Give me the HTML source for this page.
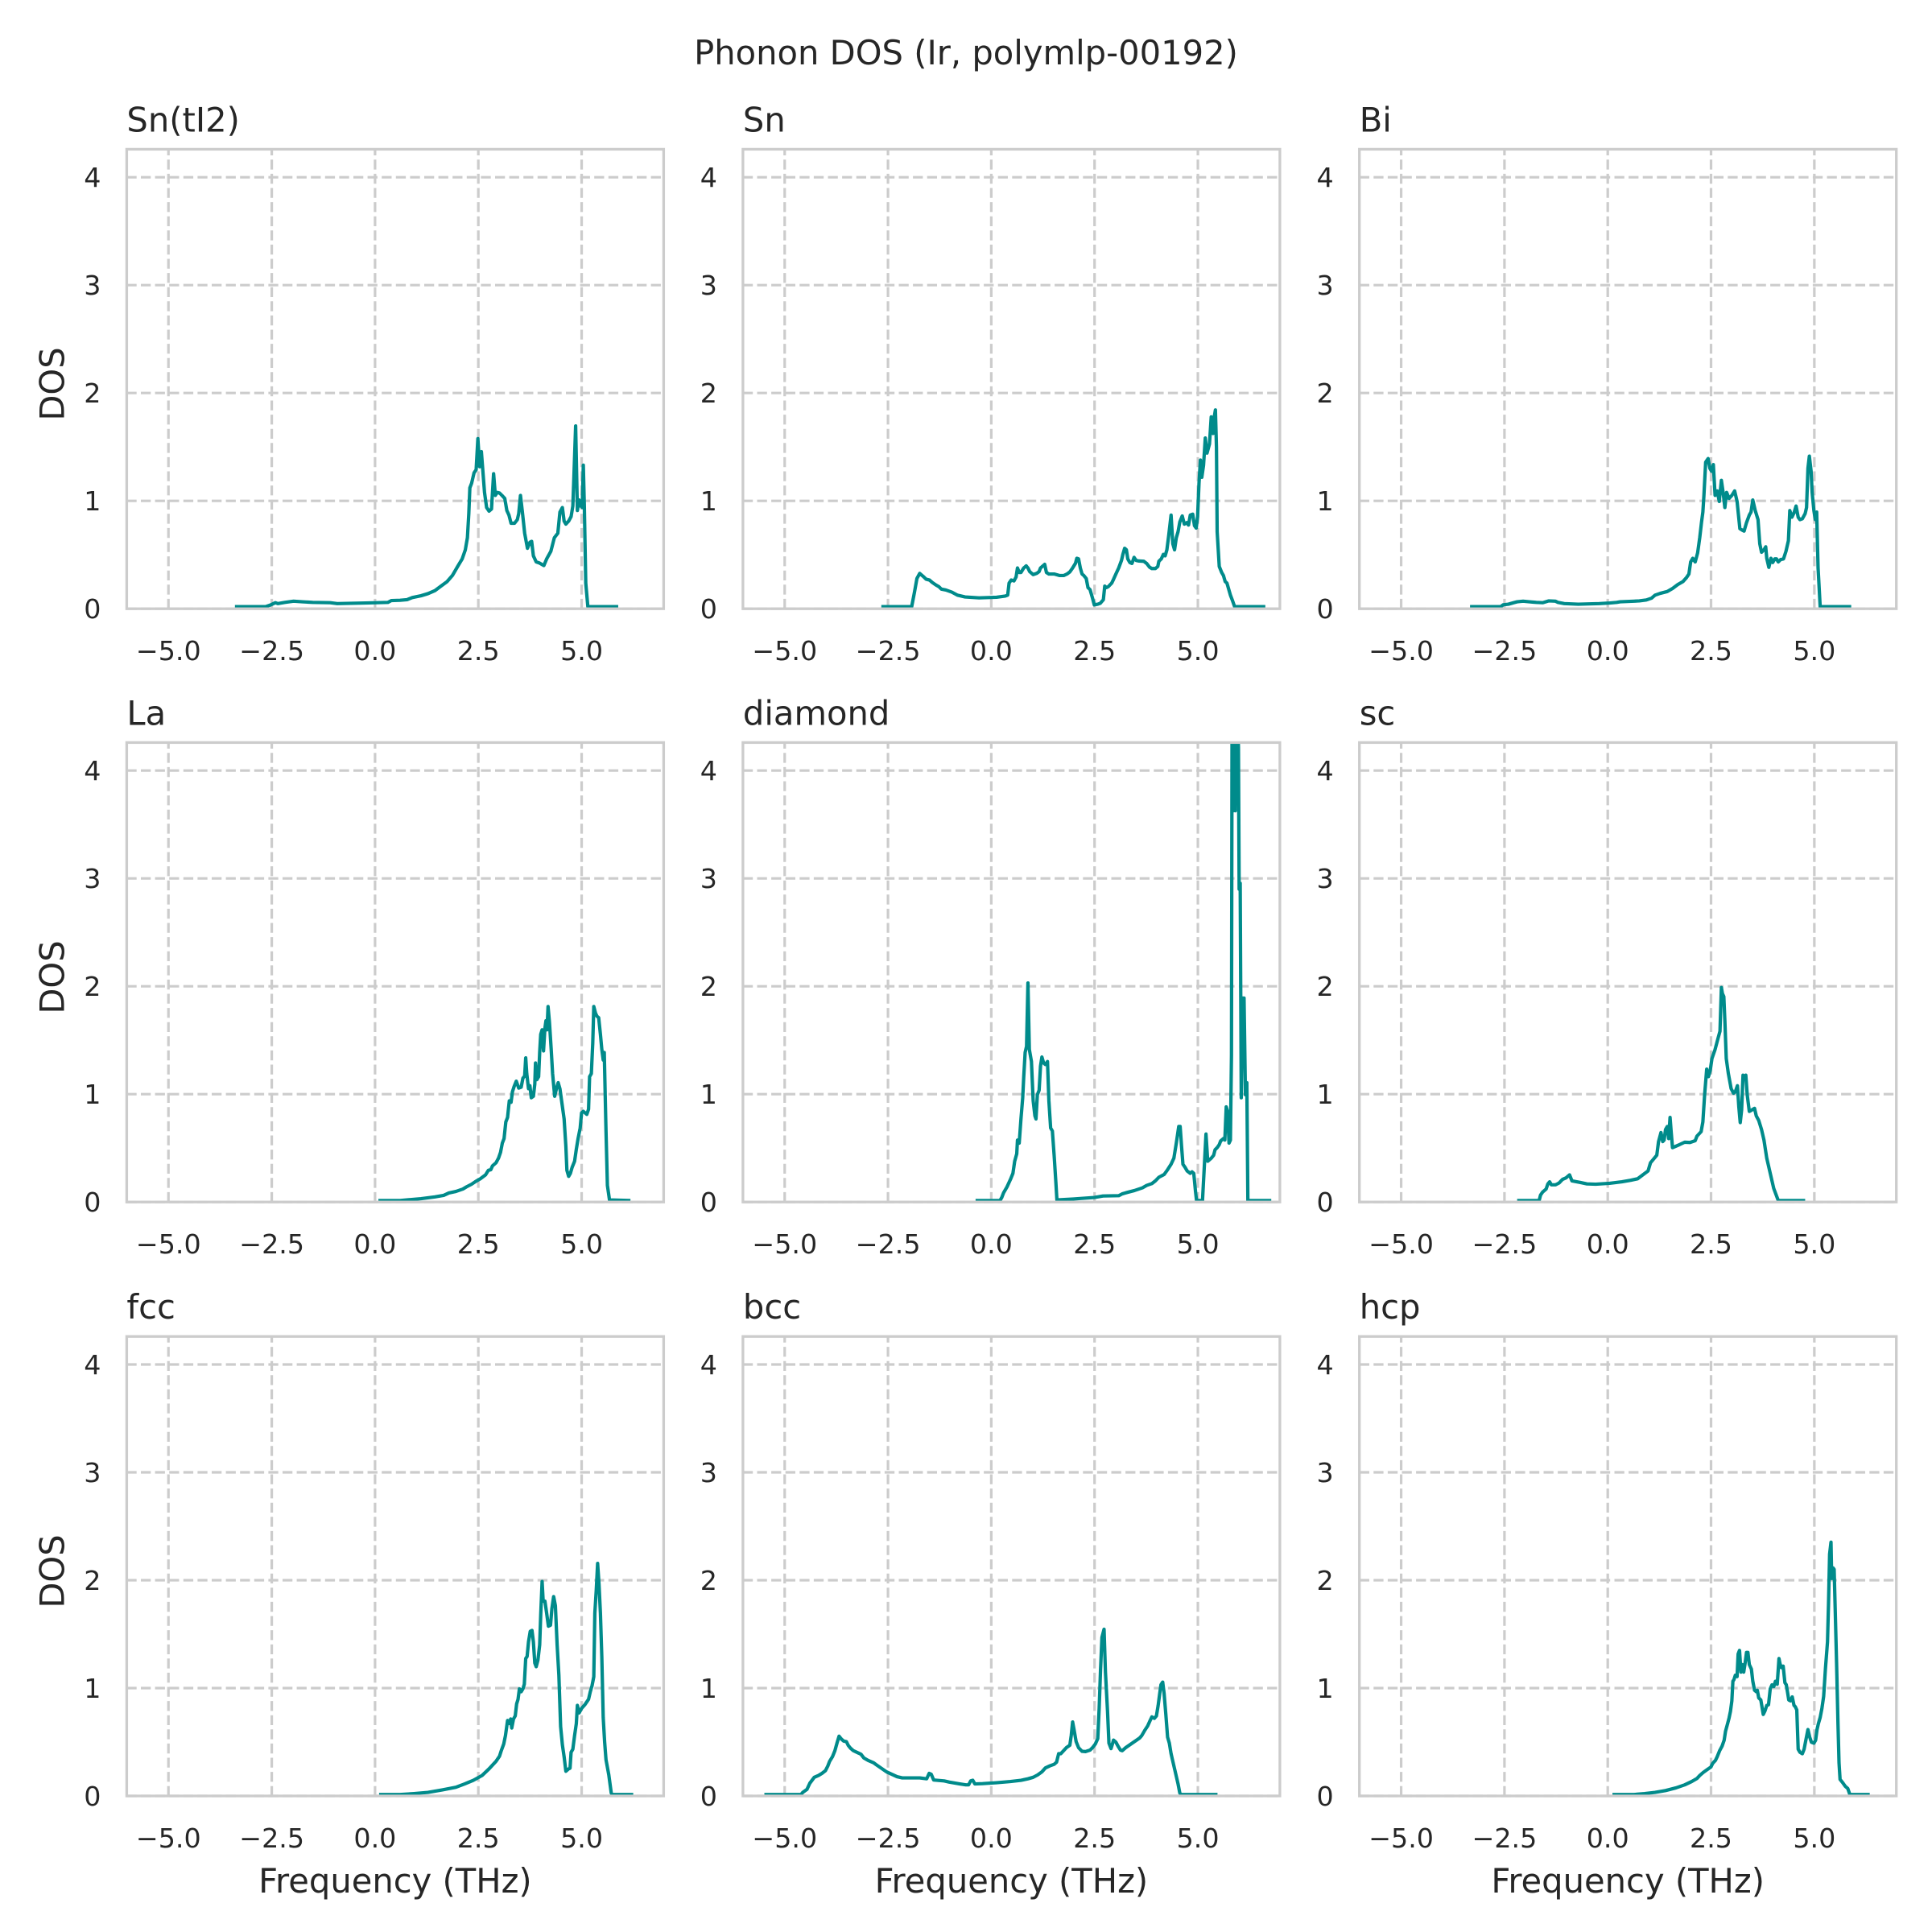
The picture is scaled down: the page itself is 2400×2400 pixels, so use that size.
<!DOCTYPE html>
<html>
<head>
<meta charset="utf-8">
<style>
html,body{margin:0;padding:0;background:#ffffff;}
svg{display:block;}
text{font-family:"DejaVu Sans","Liberation Sans",sans-serif;fill:#262626;}
.tk{font-size:33.3px;}
.ti{font-size:41.67px;}
.grid{stroke:#cccccc;stroke-width:3.2;stroke-dasharray:12.3 5.3;fill:none;}
.spine{stroke:#cccccc;stroke-width:3.3;fill:none;}
.dl{fill:none;stroke:#008b8b;stroke-width:4.2;stroke-linejoin:round;stroke-linecap:butt;vector-effect:non-scaling-stroke;}
</style>
</head>
<body>
<svg width="2400" height="2400" viewBox="0 0 2400 2400" xmlns="http://www.w3.org/2000/svg">
<defs>
<clipPath id="ax" clipPathUnits="userSpaceOnUse"><rect x="0" y="0" width="667" height="570.8"/></clipPath>
</defs>
<rect x="0" y="0" width="2400" height="2400" fill="#ffffff"/>

<text class="ti" x="1200" y="80" text-anchor="middle">Phonon DOS (Ir, polymlp-00192)</text>

<!-- ============ Panel 1: Sn(tI2) ============ -->
<g transform="translate(157.4,185.4)">
  <g class="grid">
    <path d="M51.85,570.8V0M180.2,570.8V0M308.5,570.8V0M436.8,570.8V0M565.15,570.8V0"/>
    <path d="M0,570.8H667M0,436.8H667M0,302.8H667M0,168.8H667M0,34.8H667"/>
  </g>
  <g clip-path="url(#ax)">
    <g transform="translate(-7.4,-5.4) scale(0.43367,0.37538)">
      <path class="dl" d="M327,1528 L415,1528 430,1522 443,1515 450,1518 470,1514 495,1510 520,1512 550,1514 600,1515 620,1518 700,1516 765,1514 775,1508 800,1507 820,1505 835,1498 860,1492 880,1485 900,1475 915,1462 935,1445 950,1425 965,1395 978,1370 987,1340 993,1300 997,1220 1000,1135 1005,1120 1012,1085 1018,1075 1023,972 1028,1065 1033,1015 1036,1060 1042,1150 1048,1200 1055,1212 1062,1205 1068,1088 1073,1160 1078,1150 1085,1152 1092,1160 1100,1170 1106,1210 1112,1225 1118,1252 1128,1252 1136,1240 1140,1220 1145,1160 1150,1210 1157,1285 1165,1335 1172,1315 1177,1312 1182,1360 1190,1380 1200,1384 1212,1392 1220,1370 1232,1345 1242,1300 1252,1285 1258,1215 1265,1200 1270,1245 1275,1255 1283,1245 1290,1230 1295,1195 1298,1100 1303,930 1308,1210 1313,1175 1318,1195 1322,1200 1325,1060 1328,1200 1332,1450 1338,1528 1425,1528"/>
    </g>
  </g>
  <rect class="spine" x="0" y="0" width="667" height="570.8"/>
  <g class="tk" text-anchor="end">
    <text x="-32" y="582.8">0</text><text x="-32" y="448.8">1</text><text x="-32" y="314.8">2</text><text x="-32" y="180.8">3</text><text x="-32" y="46.8">4</text>
  </g>
  <g class="tk" text-anchor="middle">
    <text x="51.85" y="634.8">−5.0</text><text x="180.2" y="634.8">−2.5</text><text x="308.5" y="634.8">0.0</text><text x="436.8" y="634.8">2.5</text><text x="565.15" y="634.8">5.0</text>
  </g>
  <text class="ti" x="0" y="-22">Sn(tI2)</text>
</g>

<!-- ============ Panel 2: Sn ============ -->
<g transform="translate(922.9,185.4)">
  <g class="grid">
    <path d="M51.85,570.8V0M180.2,570.8V0M308.5,570.8V0M436.8,570.8V0M565.15,570.8V0"/>
    <path d="M0,570.8H667M0,436.8H667M0,302.8H667M0,168.8H667M0,34.8H667"/>
  </g>
  <g clip-path="url(#ax)">
    <g transform="translate(-5.9,-5.4) scale(0.43367,0.37538)">
      <path class="dl" d="M410,1528 L497,1528 505,1480 512,1435 520,1418 530,1428 538,1437 548,1440 556,1448 566,1456 575,1462 582,1470 595,1473 612,1480 628,1490 650,1496 690,1499 740,1497 765,1493 772,1490 776,1450 782,1440 790,1443 796,1430 800,1400 805,1415 810,1415 818,1400 825,1393 830,1400 835,1412 845,1422 855,1418 862,1412 866,1400 878,1388 883,1415 890,1420 905,1420 920,1425 933,1425 942,1420 950,1413 958,1400 966,1385 970,1368 975,1370 980,1400 985,1420 990,1425 997,1435 1002,1465 1008,1472 1015,1500 1020,1522 1030,1520 1037,1517 1046,1505 1050,1460 1055,1465 1060,1462 1070,1450 1075,1438 1082,1420 1090,1400 1098,1375 1102,1355 1107,1335 1112,1340 1116,1370 1122,1382 1128,1385 1134,1365 1140,1375 1148,1377 1162,1378 1170,1385 1178,1397 1185,1402 1195,1402 1202,1395 1205,1378 1212,1370 1218,1355 1223,1360 1228,1340 1233,1295 1240,1225 1245,1320 1250,1340 1255,1300 1260,1280 1265,1248 1272,1228 1278,1255 1285,1250 1290,1258 1295,1225 1302,1222 1307,1260 1312,1268 1316,1230 1320,1120 1324,1043 1328,1100 1333,1060 1338,970 1343,1020 1350,990 1355,900 1360,955 1363,905 1367,877 1370,1000 1372,1280 1378,1395 1385,1415 1390,1425 1395,1445 1400,1450 1405,1470 1410,1490 1415,1505 1422,1528 1510,1528"/>
    </g>
  </g>
  <rect class="spine" x="0" y="0" width="667" height="570.8"/>
  <g class="tk" text-anchor="end">
    <text x="-32" y="582.8">0</text><text x="-32" y="448.8">1</text><text x="-32" y="314.8">2</text><text x="-32" y="180.8">3</text><text x="-32" y="46.8">4</text>
  </g>
  <g class="tk" text-anchor="middle">
    <text x="51.85" y="634.8">−5.0</text><text x="180.2" y="634.8">−2.5</text><text x="308.5" y="634.8">0.0</text><text x="436.8" y="634.8">2.5</text><text x="565.15" y="634.8">5.0</text>
  </g>
  <text class="ti" x="0" y="-22">Sn</text>
</g>

<!-- ============ Panel 3: Bi ============ -->
<g transform="translate(1688.7,185.4)">
  <g class="grid">
    <path d="M51.85,570.8V0M180.2,570.8V0M308.5,570.8V0M436.8,570.8V0M565.15,570.8V0"/>
    <path d="M0,570.8H667M0,436.8H667M0,302.8H667M0,168.8H667M0,34.8H667"/>
  </g>
  <g clip-path="url(#ax)">
    <g transform="translate(-5.7,-5.4) scale(0.43367,0.37538)">
      <path class="dl" d="M330,1528 L418,1528 425,1522 440,1520 455,1515 465,1512 482,1510 500,1512 520,1514 538,1515 555,1509 575,1510 582,1514 600,1518 640,1520 700,1518 730,1516 750,1514 760,1512 800,1510 815,1509 835,1506 850,1500 860,1490 875,1484 895,1478 910,1468 925,1455 940,1445 950,1432 957,1420 962,1380 968,1368 975,1380 982,1350 988,1300 993,1250 997,1215 1000,1160 1005,1050 1012,1038 1017,1070 1022,1080 1027,1058 1032,1160 1038,1145 1044,1180 1050,1110 1055,1150 1060,1200 1065,1150 1072,1170 1080,1160 1088,1145 1095,1180 1103,1270 1110,1275 1115,1278 1122,1250 1130,1225 1135,1215 1140,1175 1147,1210 1155,1240 1160,1320 1165,1348 1172,1340 1177,1330 1180,1368 1186,1398 1192,1368 1197,1382 1203,1370 1208,1370 1213,1380 1220,1372 1228,1370 1235,1345 1242,1310 1246,1210 1252,1232 1258,1218 1264,1195 1270,1232 1275,1240 1282,1237 1290,1220 1294,1200 1298,1070 1302,1030 1307,1080 1310,1150 1315,1210 1319,1240 1323,1215 1327,1400 1333,1528 1422,1528"/>
    </g>
  </g>
  <rect class="spine" x="0" y="0" width="667" height="570.8"/>
  <g class="tk" text-anchor="end">
    <text x="-32" y="582.8">0</text><text x="-32" y="448.8">1</text><text x="-32" y="314.8">2</text><text x="-32" y="180.8">3</text><text x="-32" y="46.8">4</text>
  </g>
  <g class="tk" text-anchor="middle">
    <text x="51.85" y="634.8">−5.0</text><text x="180.2" y="634.8">−2.5</text><text x="308.5" y="634.8">0.0</text><text x="436.8" y="634.8">2.5</text><text x="565.15" y="634.8">5.0</text>
  </g>
  <text class="ti" x="0" y="-22">Bi</text>
</g>

<!-- ============ Panel 4: La ============ -->
<g transform="translate(157.4,922.4)">
  <g class="grid">
    <path d="M51.85,570.8V0M180.2,570.8V0M308.5,570.8V0M436.8,570.8V0M565.15,570.8V0"/>
    <path d="M0,570.8H667M0,436.8H667M0,302.8H667M0,168.8H667M0,34.8H667"/>
  </g>
  <g clip-path="url(#ax)">
    <g transform="translate(-7.4,-5.4) scale(0.43367,0.37538)">
      <path class="dl" d="M738,1530 L800,1530 830,1527 860,1524 900,1518 925,1513 940,1505 960,1500 980,1492 990,1485 1005,1476 1018,1466 1030,1458 1045,1445 1053,1430 1060,1428 1065,1415 1075,1405 1082,1390 1088,1370 1093,1340 1098,1325 1103,1270 1108,1255 1113,1200 1118,1205 1122,1170 1127,1152 1133,1135 1140,1158 1147,1155 1152,1125 1157,1118 1160,1058 1163,1110 1168,1160 1172,1150 1176,1190 1182,1185 1186,1145 1188,1075 1192,1130 1197,1120 1200,1040 1203,980 1207,965 1211,1035 1215,960 1218,935 1221,965 1224,888 1228,940 1233,1030 1237,1110 1243,1185 1248,1160 1253,1140 1258,1160 1264,1210 1270,1260 1275,1350 1278,1430 1283,1450 1288,1440 1293,1420 1300,1400 1305,1360 1310,1325 1316,1290 1320,1240 1325,1235 1330,1240 1335,1245 1340,1228 1343,1120 1348,1110 1352,1010 1355,888 1360,910 1364,920 1369,925 1374,980 1378,1030 1382,1065 1385,1040 1390,1300 1394,1480 1400,1528 1460,1530"/>
    </g>
  </g>
  <rect class="spine" x="0" y="0" width="667" height="570.8"/>
  <g class="tk" text-anchor="end">
    <text x="-32" y="582.8">0</text><text x="-32" y="448.8">1</text><text x="-32" y="314.8">2</text><text x="-32" y="180.8">3</text><text x="-32" y="46.8">4</text>
  </g>
  <g class="tk" text-anchor="middle">
    <text x="51.85" y="634.8">−5.0</text><text x="180.2" y="634.8">−2.5</text><text x="308.5" y="634.8">0.0</text><text x="436.8" y="634.8">2.5</text><text x="565.15" y="634.8">5.0</text>
  </g>
  <text class="ti" x="0" y="-22">La</text>
</g>

<!-- ============ Panel 5: diamond ============ -->
<g transform="translate(922.9,922.4)">
  <g class="grid">
    <path d="M51.85,570.8V0M180.2,570.8V0M308.5,570.8V0M436.8,570.8V0M565.15,570.8V0"/>
    <path d="M0,570.8H667M0,436.8H667M0,302.8H667M0,168.8H667M0,34.8H667"/>
  </g>
  <g clip-path="url(#ax)">
    <g transform="translate(-5.9,-5.4) scale(0.43367,0.37538)">
      <path class="dl" d="M680,1530 L750,1530 755,1520 760,1505 770,1485 780,1460 787,1440 792,1400 798,1375 800,1330 805,1340 810,1260 815,1190 818,1120 822,1040 826,1020 830,810 834,1030 840,1070 845,1200 850,1250 853,1260 857,1180 862,1165 866,1085 870,1055 875,1075 880,1080 886,1070 890,1200 895,1290 900,1300 905,1380 910,1470 913,1528 960,1525 1020,1520 1045,1515 1090,1514 1100,1508 1115,1503 1135,1497 1158,1488 1170,1480 1185,1474 1195,1465 1205,1453 1220,1444 1230,1428 1240,1410 1248,1390 1255,1340 1262,1285 1266,1285 1270,1350 1274,1410 1280,1420 1286,1432 1295,1440 1300,1435 1305,1440 1310,1500 1313,1530 1330,1530 1336,1400 1340,1310 1345,1400 1355,1390 1362,1380 1366,1362 1372,1355 1378,1345 1382,1333 1390,1325 1394,1330 1398,1220 1402,1235 1406,1340 1410,1330 1413,1050 1415,-300 1418,240 1421,-300 1424,240 1427,-300 1430,-100 1433,30 1435,500 1438,480 1441,1190 1445,860 1449,860 1453,1180 1457,1140 1460,1530 1527,1530"/>
    </g>
  </g>
  <rect class="spine" x="0" y="0" width="667" height="570.8"/>
  <g class="tk" text-anchor="end">
    <text x="-32" y="582.8">0</text><text x="-32" y="448.8">1</text><text x="-32" y="314.8">2</text><text x="-32" y="180.8">3</text><text x="-32" y="46.8">4</text>
  </g>
  <g class="tk" text-anchor="middle">
    <text x="51.85" y="634.8">−5.0</text><text x="180.2" y="634.8">−2.5</text><text x="308.5" y="634.8">0.0</text><text x="436.8" y="634.8">2.5</text><text x="565.15" y="634.8">5.0</text>
  </g>
  <text class="ti" x="0" y="-22">diamond</text>
</g>

<!-- ============ Panel 6: sc ============ -->
<g transform="translate(1688.7,922.4)">
  <g class="grid">
    <path d="M51.85,570.8V0M180.2,570.8V0M308.5,570.8V0M436.8,570.8V0M565.15,570.8V0"/>
    <path d="M0,570.8H667M0,436.8H667M0,302.8H667M0,168.8H667M0,34.8H667"/>
  </g>
  <g clip-path="url(#ax)">
    <g transform="translate(-5.7,-5.4) scale(0.43367,0.37538)">
      <path class="dl" d="M465,1530 L528,1530 532,1512 538,1502 548,1492 553,1475 558,1468 563,1478 575,1478 585,1472 595,1460 605,1455 615,1445 622,1465 645,1470 665,1475 690,1476 730,1473 765,1468 790,1463 810,1458 825,1445 840,1432 847,1405 852,1398 865,1380 870,1335 877,1305 882,1335 886,1330 890,1295 895,1285 899,1325 903,1255 906,1300 910,1355 930,1345 945,1337 960,1338 975,1332 980,1317 992,1302 997,1270 1002,1180 1008,1095 1013,1120 1018,1100 1023,1060 1032,1030 1040,995 1046,970 1050,825 1053,845 1057,855 1060,935 1064,1060 1070,1110 1078,1160 1085,1175 1090,1170 1096,1150 1100,1220 1104,1272 1108,1230 1112,1115 1116,1125 1120,1115 1124,1180 1130,1235 1135,1232 1145,1225 1150,1250 1157,1265 1165,1295 1172,1330 1180,1390 1190,1440 1200,1490 1213,1530 1290,1530"/>
    </g>
  </g>
  <rect class="spine" x="0" y="0" width="667" height="570.8"/>
  <g class="tk" text-anchor="end">
    <text x="-32" y="582.8">0</text><text x="-32" y="448.8">1</text><text x="-32" y="314.8">2</text><text x="-32" y="180.8">3</text><text x="-32" y="46.8">4</text>
  </g>
  <g class="tk" text-anchor="middle">
    <text x="51.85" y="634.8">−5.0</text><text x="180.2" y="634.8">−2.5</text><text x="308.5" y="634.8">0.0</text><text x="436.8" y="634.8">2.5</text><text x="565.15" y="634.8">5.0</text>
  </g>
  <text class="ti" x="0" y="-22">sc</text>
</g>

<!-- ============ Panel 7: fcc ============ -->
<g transform="translate(157.4,1660.2)">
  <g class="grid">
    <path d="M51.85,570.8V0M180.2,570.8V0M308.5,570.8V0M436.8,570.8V0M565.15,570.8V0"/>
    <path d="M0,570.8H667M0,436.8H667M0,302.8H667M0,168.8H667M0,34.8H667"/>
  </g>
  <g clip-path="url(#ax)">
    <g transform="translate(-7.4,-7.2) scale(0.43367,0.37538)">
      <path class="dl" d="M740,1535 L800,1535 840,1532 880,1528 920,1520 960,1511 985,1500 1010,1488 1035,1472 1055,1450 1075,1425 1085,1408 1090,1390 1097,1368 1102,1340 1108,1290 1113,1300 1117,1285 1120,1315 1125,1285 1130,1275 1134,1235 1138,1220 1142,1185 1147,1195 1152,1185 1156,1170 1160,1085 1164,1078 1168,1030 1173,995 1178,992 1182,1030 1186,1100 1190,1112 1195,1090 1200,1040 1203,940 1207,830 1210,895 1215,895 1220,935 1225,978 1231,975 1235,920 1240,880 1245,910 1250,1040 1255,1140 1260,1310 1265,1370 1270,1410 1275,1458 1283,1450 1287,1448 1290,1395 1295,1385 1300,1340 1305,1300 1308,1240 1313,1265 1320,1250 1330,1237 1340,1220 1345,1195 1350,1175 1355,1145 1358,935 1362,860 1366,770 1370,840 1374,935 1378,1080 1382,1280 1386,1360 1390,1420 1398,1470 1405,1530 1408,1535 1468,1535"/>
    </g>
  </g>
  <rect class="spine" x="0" y="0" width="667" height="570.8"/>
  <g class="tk" text-anchor="end">
    <text x="-32" y="582.8">0</text><text x="-32" y="448.8">1</text><text x="-32" y="314.8">2</text><text x="-32" y="180.8">3</text><text x="-32" y="46.8">4</text>
  </g>
  <g class="tk" text-anchor="middle">
    <text x="51.85" y="634.8">−5.0</text><text x="180.2" y="634.8">−2.5</text><text x="308.5" y="634.8">0.0</text><text x="436.8" y="634.8">2.5</text><text x="565.15" y="634.8">5.0</text>
  </g>
  <text class="ti" x="0" y="-22">fcc</text>
</g>

<!-- ============ Panel 8: bcc ============ -->
<g transform="translate(922.9,1660.2)">
  <g class="grid">
    <path d="M51.85,570.8V0M180.2,570.8V0M308.5,570.8V0M436.8,570.8V0M565.15,570.8V0"/>
    <path d="M0,570.8H667M0,436.8H667M0,302.8H667M0,168.8H667M0,34.8H667"/>
  </g>
  <g clip-path="url(#ax)">
    <g transform="translate(-5.9,-7.2) scale(0.43367,0.37538)">
      <path class="dl" d="M75,1535 L180,1535 185,1528 197,1518 205,1498 218,1478 230,1472 240,1465 250,1456 257,1440 262,1425 270,1410 277,1390 283,1365 289,1342 296,1352 302,1358 310,1360 315,1372 322,1382 330,1390 345,1398 352,1402 360,1414 372,1422 388,1430 395,1436 410,1448 425,1460 440,1468 455,1476 470,1480 485,1480 520,1480 540,1483 547,1465 553,1468 560,1487 590,1490 605,1494 635,1500 652,1503 660,1503 666,1490 672,1488 678,1500 700,1499 740,1496 780,1492 810,1488 830,1483 845,1478 858,1470 870,1460 880,1447 893,1440 905,1435 912,1428 918,1400 924,1400 932,1390 940,1380 950,1372 954,1340 958,1295 962,1320 968,1360 975,1380 985,1392 995,1393 1008,1388 1015,1380 1023,1368 1030,1350 1034,1250 1038,1120 1042,1015 1048,988 1052,1130 1058,1260 1062,1365 1068,1383 1072,1368 1075,1355 1082,1362 1088,1375 1095,1388 1100,1390 1110,1380 1120,1372 1135,1360 1150,1348 1156,1340 1165,1322 1173,1308 1180,1290 1185,1278 1192,1283 1198,1275 1203,1240 1207,1205 1211,1172 1216,1163 1220,1200 1225,1270 1230,1345 1235,1365 1240,1400 1245,1425 1252,1460 1260,1500 1265,1530 1268,1535 1373,1535"/>
    </g>
  </g>
  <rect class="spine" x="0" y="0" width="667" height="570.8"/>
  <g class="tk" text-anchor="end">
    <text x="-32" y="582.8">0</text><text x="-32" y="448.8">1</text><text x="-32" y="314.8">2</text><text x="-32" y="180.8">3</text><text x="-32" y="46.8">4</text>
  </g>
  <g class="tk" text-anchor="middle">
    <text x="51.85" y="634.8">−5.0</text><text x="180.2" y="634.8">−2.5</text><text x="308.5" y="634.8">0.0</text><text x="436.8" y="634.8">2.5</text><text x="565.15" y="634.8">5.0</text>
  </g>
  <text class="ti" x="0" y="-22">bcc</text>
</g>

<!-- ============ Panel 9: hcp ============ -->
<g transform="translate(1688.7,1660.2)">
  <g class="grid">
    <path d="M51.85,570.8V0M180.2,570.8V0M308.5,570.8V0M436.8,570.8V0M565.15,570.8V0"/>
    <path d="M0,570.8H667M0,436.8H667M0,302.8H667M0,168.8H667M0,34.8H667"/>
  </g>
  <g clip-path="url(#ax)">
    <g transform="translate(-5.7,-7.2) scale(0.43367,0.37538)">
      <path class="dl" d="M738,1535 L800,1535 830,1532 860,1528 890,1522 920,1513 945,1503 965,1492 980,1482 988,1472 998,1462 1010,1452 1020,1444 1025,1432 1033,1422 1038,1410 1045,1390 1052,1375 1058,1355 1062,1325 1068,1300 1072,1282 1076,1260 1080,1225 1083,1160 1086,1155 1090,1140 1095,1145 1098,1070 1102,1058 1106,1130 1110,1105 1114,1130 1118,1100 1122,1065 1126,1065 1130,1105 1136,1120 1140,1160 1145,1190 1150,1195 1153,1190 1157,1215 1163,1222 1170,1270 1175,1258 1180,1240 1185,1238 1190,1185 1195,1172 1200,1178 1205,1160 1210,1170 1215,1085 1218,1102 1222,1115 1227,1110 1232,1165 1236,1172 1240,1200 1243,1222 1248,1225 1253,1212 1258,1240 1262,1245 1266,1255 1270,1385 1275,1395 1282,1400 1287,1385 1292,1355 1298,1320 1303,1345 1308,1362 1315,1365 1320,1355 1324,1320 1328,1300 1333,1280 1338,1250 1343,1210 1348,1120 1354,1030 1357,900 1360,740 1364,700 1366,820 1370,785 1373,790 1376,920 1380,1100 1384,1300 1387,1430 1390,1485 1397,1495 1405,1508 1412,1515 1418,1535 1475,1535"/>
    </g>
  </g>
  <rect class="spine" x="0" y="0" width="667" height="570.8"/>
  <g class="tk" text-anchor="end">
    <text x="-32" y="582.8">0</text><text x="-32" y="448.8">1</text><text x="-32" y="314.8">2</text><text x="-32" y="180.8">3</text><text x="-32" y="46.8">4</text>
  </g>
  <g class="tk" text-anchor="middle">
    <text x="51.85" y="634.8">−5.0</text><text x="180.2" y="634.8">−2.5</text><text x="308.5" y="634.8">0.0</text><text x="436.8" y="634.8">2.5</text><text x="565.15" y="634.8">5.0</text>
  </g>
  <text class="ti" x="0" y="-22">hcp</text>
</g>

<!-- Axis labels -->
<text class="ti" text-anchor="middle" transform="translate(79.5,477) rotate(-90)">DOS</text>
<text class="ti" text-anchor="middle" transform="translate(79.5,1214) rotate(-90)">DOS</text>
<text class="ti" text-anchor="middle" transform="translate(79.5,1952) rotate(-90)">DOS</text>

<text class="ti" x="490.9" y="2351" text-anchor="middle">Frequency (THz)</text>
<text class="ti" x="1256.4" y="2351" text-anchor="middle">Frequency (THz)</text>
<text class="ti" x="2022.2" y="2351" text-anchor="middle">Frequency (THz)</text>
</svg>
</body>
</html>
